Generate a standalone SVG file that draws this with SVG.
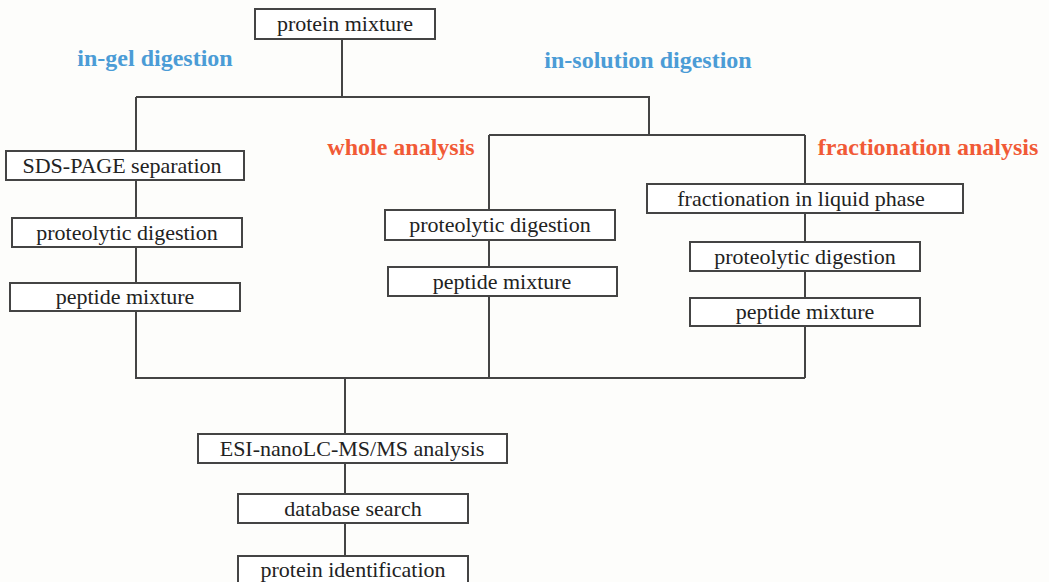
<svg xmlns="http://www.w3.org/2000/svg" width="1049" height="582" viewBox="0 0 1049 582">
<style>
.box{fill:#fff;stroke:#444;stroke-width:2}
.t{font-family:"Liberation Serif",serif;font-size:22px;fill:#222;text-anchor:middle}
.lbl{font-family:"Liberation Serif",serif;font-size:24px;font-weight:bold;text-anchor:middle}
.blue{fill:#4b9cd6}
.red{fill:#f15a36}
.conn{fill:none;stroke:#444;stroke-width:2}
</style>
<rect width="1049" height="582" fill="#fdfdfb"/>
<g id="connectors">
<path class="conn" d="M342 39V97M136 97H649V135M136 97V378H805M489 135H805M489 135V378M805 135V378M345 378V434M345 463V494M345 523V556"/>
</g>
<g id="labels">
<text class="lbl blue" x="155" y="66">in-gel digestion</text>
<text class="lbl blue" x="648" y="68">in-solution digestion</text>
<text class="lbl red" x="401" y="155">whole analysis</text>
<text class="lbl red" x="928" y="155">fractionation analysis</text>
</g>
<g id="n-protein-mixture"><rect class="box" x="255" y="9" width="180" height="30"/><text class="t" x="345" y="31">protein mixture</text></g>
<g id="n-sds-page"><rect class="box" x="6" y="151" width="238" height="29"/><text class="t" x="122" y="173">SDS-PAGE separation</text></g>
<g id="n-gel-digestion"><rect class="box" x="12" y="218" width="230" height="29"/><text class="t" x="127" y="240">proteolytic digestion</text></g>
<g id="n-gel-peptide"><rect class="box" x="10" y="283" width="230" height="28"/><text class="t" x="125" y="304">peptide mixture</text></g>
<g id="n-whole-digestion"><rect class="box" x="385" y="210" width="230" height="30"/><text class="t" x="500" y="232">proteolytic digestion</text></g>
<g id="n-whole-peptide"><rect class="box" x="388" y="267" width="229" height="29"/><text class="t" x="502" y="289">peptide mixture</text></g>
<g id="n-fractionation"><rect class="box" x="647" y="184" width="316" height="29"/><text class="t" x="801" y="206">fractionation in liquid phase</text></g>
<g id="n-frac-digestion"><rect class="box" x="690" y="242" width="230" height="29"/><text class="t" x="805" y="264">proteolytic digestion</text></g>
<g id="n-frac-peptide"><rect class="box" x="690" y="298" width="230" height="28"/><text class="t" x="805" y="319">peptide mixture</text></g>
<g id="n-esi"><rect class="box" x="198" y="434" width="309" height="29"/><text class="t" x="352" y="456">ESI-nanoLC-MS/MS analysis</text></g>
<g id="n-database"><rect class="box" x="238" y="494" width="230" height="29"/><text class="t" x="353" y="516">database search</text></g>
<g id="n-identification"><rect class="box" x="238" y="556" width="230" height="30"/><text class="t" x="353" y="577">protein identification</text></g>
</svg>
